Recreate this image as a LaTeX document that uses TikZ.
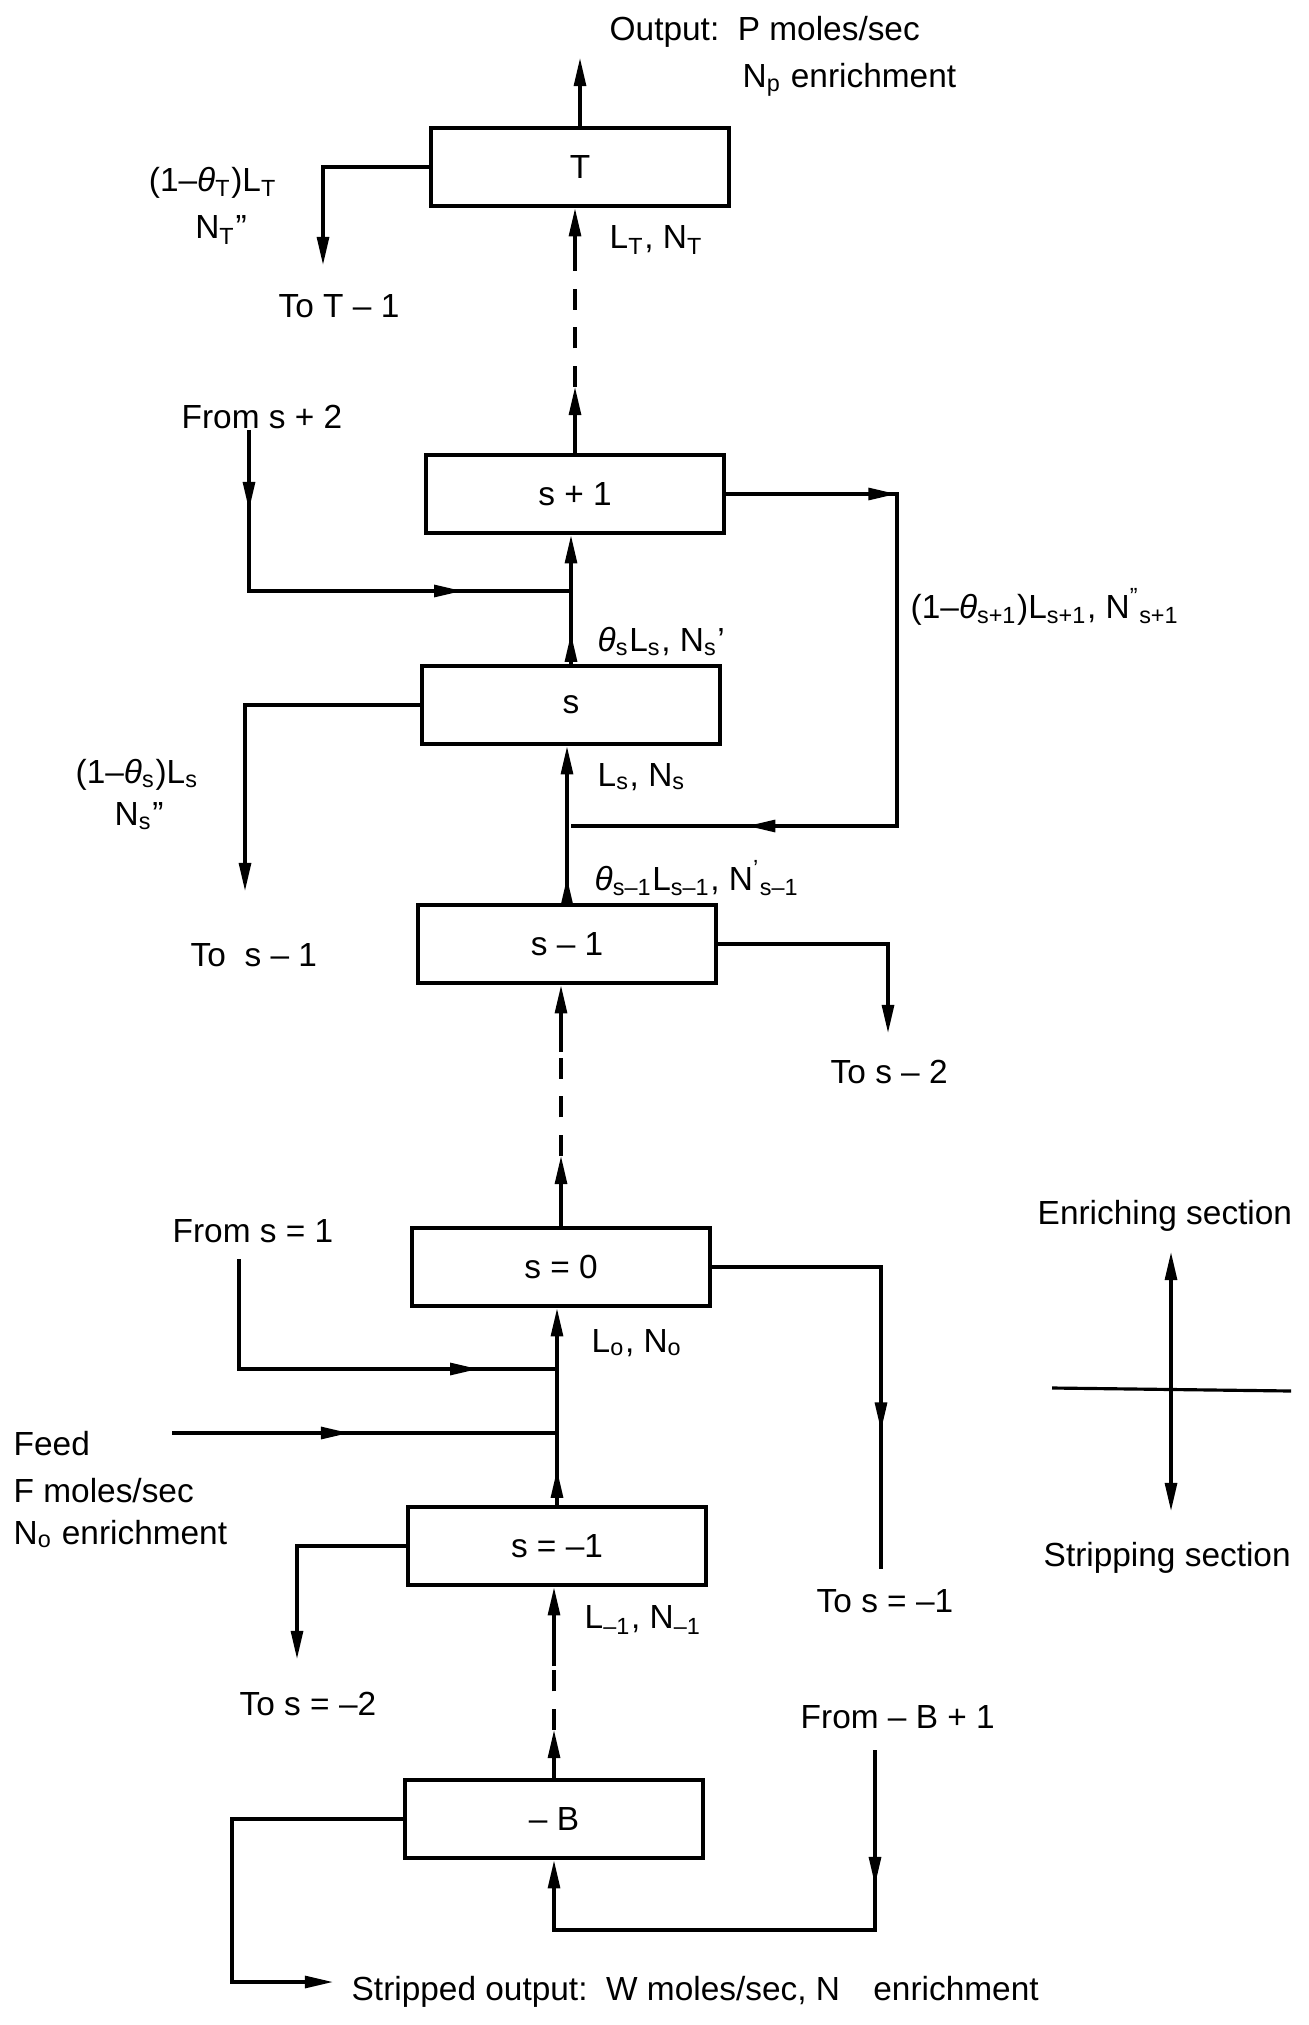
\documentclass[tikz,border=0pt]{standalone}
\usepackage{fontspec}
\setmainfont{Liberation Sans}
\usepackage{tikz}
\usetikzlibrary{arrows.meta, decorations.markings}
\tikzstyle{stage} = [draw, line width=1.3pt, minimum width=2.98cm, minimum height=0.78cm, inner sep=0pt]
\tikzstyle{line} = [line width=0.9pt]
\tikzstyle{flow} = [line width=0.9pt, -{Triangle[length=8pt,width=3.4pt]}]
\tikzstyle{dashline} = [line width=0.9pt, dash pattern=on 6pt off 5pt]
\tikzstyle{lbl} = [anchor=west, inner sep=0pt]
\tikzset{arrowat/.style={postaction={decorate,decoration={markings,
  mark=at position #1 with {\arrow{Triangle[length=8pt,width=3.4pt]}}}}}}
\newcommand{\sub}[1]{\textsubscript{#1}}
\newcommand{\thet}{\textit{θ}}

\begin{document}
\begin{tikzpicture}[x=0.01cm, y=-0.01cm, font=\fontsize{9.5pt}{11pt}\selectfont]
	\useasboundingbox (0,0) rectangle (1308,2025);
	% stages
	\node[stage] (T) at (580,167) {T};
	\node[stage] (sp1) at (575,494) {s + 1};
	\node[stage] (s) at (571,705) {s};
	\node[stage] (sm1) at (567,944) {s -- 1};
	\node[stage] (s0) at (561,1267) {s = 0};
	\node[stage] (sneg) at (557,1546) {s = --1};
	\node[stage] (B) at (554,1819) {-- B};
	% free ends
	\coordinate (out) at (580,58);
	\coordinate (g1) at (575,387);
	\coordinate (g2) at (575,268);
	\coordinate (g3) at (561,1156);
	\coordinate (g4) at (561,1052);
	\coordinate (g5) at (554,1730);
	\coordinate (g6) at (554,1666);
	\coordinate (toT) at (323,265);
	\coordinate (fs2) at (249,430);
	\coordinate (j1) at (571,591);
	\coordinate (rr) at (897,826);
	\coordinate (j2) at (571,826);
	\coordinate (tos) at (245,891);
	\coordinate (tosm2) at (888,1033);
	\coordinate (fs1) at (239,1259);
	\coordinate (j3) at (557,1369);
	\coordinate (feedin) at (172,1433);
	\coordinate (j4) at (557,1433);
	\coordinate (tosm1) at (881,1569);
	\coordinate (tosm2b) at (297,1659);
	\coordinate (c1) at (232,1982);
	\coordinate (sout) at (333,1982);
	\coordinate (fb1) at (875,1750);
	\coordinate (c2) at (554,1930);
	\coordinate (leg1) at (1171,1252);
	\coordinate (leg2) at (1171,1511);
	\coordinate (h1) at (1052,1388);
	\coordinate (h2) at (1291,1391);
	% main column
	\draw[flow] (T.north) -- (out);
	\draw[flow] (sp1.north) -- (g1);
	\draw[dashline] (g1) -- (g2);
	\draw[flow] (g2) -- (T.south -| g2);
	\draw[flow, arrowat=0.3cm] (s.north) -- (sp1.south -| s.north);
	\draw[flow, arrowat=0.25cm] (sm1.north) -- (s.south -| sm1.north);
	\draw[flow] (s0.north) -- (g3);
	\draw[dashline] (g3) -- (g4);
	\draw[flow] (g4) -- (sm1.south -| g4);
	\draw[flow, arrowat=0.35cm] (sneg.north) -- (s0.south -| sneg.north);
	\draw[flow] (B.north) -- (g5);
	\draw[dashline] (g5) -- (g6);
	\draw[flow] (g6) -- (sneg.south -| g6);
	% side streams
	\draw[flow] (T.west) -| (toT);
	\draw[line, arrowat=0.8cm, arrowat=3.74cm] (fs2) |- (j1);
	\draw[line, arrowat=1.7cm, arrowat=6.52cm] (sp1.east) -| (rr) -- (j2);
	\draw[flow] (s.west) -| (tos);
	\draw[flow] (sm1.east) -| (tosm2);
	\draw[line, arrowat=3.49cm] (fs1) |- (j3);
	\draw[line, arrowat=1.77cm] (feedin) -- (j4);
	\draw[line, arrowat=3.32cm] (s0.east) -| (tosm1);
	\draw[flow] (sneg.west) -| (tosm2b);
	\draw[flow] (B.west) -| (c1) -- (sout);
	\draw[flow, arrowat=1.35cm] (fb1) |- (c2) -- (B.south -| c2);
	% section marker
	\draw[line, {Triangle[length=8pt,width=3.4pt]}-{Triangle[length=8pt,width=3.4pt]}] (leg1) -- (leg2);
	\draw[line] (h1) -- (h2);
	% labels
	\node[lbl] (outa) at (609,32) {Output:\ \ P moles/sec};
	\node[lbl] (outb) at (742,80) {N\sub{p} enrichment};
	\node[inner sep=0pt] (tl1) at (213,183) {(1--\thet\sub{T})L\sub{T}};
	\node[inner sep=0pt] (tl2) at (221,230) {N\sub{T}''};
	\node[lbl] (totm1) at (278,306) {To T -- 1};
	\node[lbl] (ltnt) at (609,240) {L\sub{T}, N\sub{T}};
	\node[lbl] (froms2) at (181,417) {From s + 2};
	\node[lbl] (recyc) at (910,607) {(1--\thet\sub{s+1})L\sub{s+1}, N\textsuperscript{''}\sub{s+1}};
	\node[lbl] (thls) at (597,642) {\thet\sub{s}L\sub{s}, N\sub{s}'};
	\node[lbl] (sl1) at (75,775) {(1--\thet\sub{s})L\sub{s}};
	\node[lbl] (sl2) at (114,816) {N\sub{s}''};
	\node[lbl] (tosm1t) at (190,955) {To\ \ s -- 1};
	\node[lbl] (lsns) at (597,777) {L\sub{s}, N\sub{s}};
	\node[lbl] (thlsm) at (594,878) {\thet\sub{s--1}L\sub{s--1}, N\textsuperscript{'}\sub{s--1}};
	\node[lbl] (tosm2t) at (830,1072) {To s -- 2};
	\node[lbl] (enr) at (1037,1216) {Enriching section};
	\node[lbl] (froms1) at (172,1231) {From s = 1};
	\node[lbl] (lono) at (591,1343) {L\sub{o}, N\sub{o}};
	\node[lbl] (feed1) at (13,1444) {Feed};
	\node[lbl] (feed2) at (13,1491) {F moles/sec};
	\node[lbl] (feed3) at (13,1534) {N\sub{o} enrichment};
	\node[lbl] (strp) at (1043,1558) {Stripping section};
	\node[lbl] (tosneg) at (816,1601) {To s = --1};
	\node[lbl] (lmnm) at (584,1620) {L\sub{--1}, N\sub{--1}};
	\node[lbl] (tosm2c) at (239,1704) {To s = --2};
	\node[lbl] (fromb) at (800,1717) {From -- B + 1};
	\node[lbl] (stout) at (351,1992) {Stripped output:\ \ W moles/sec,\ N\quad enrichment};
\end{tikzpicture}
\end{document}
